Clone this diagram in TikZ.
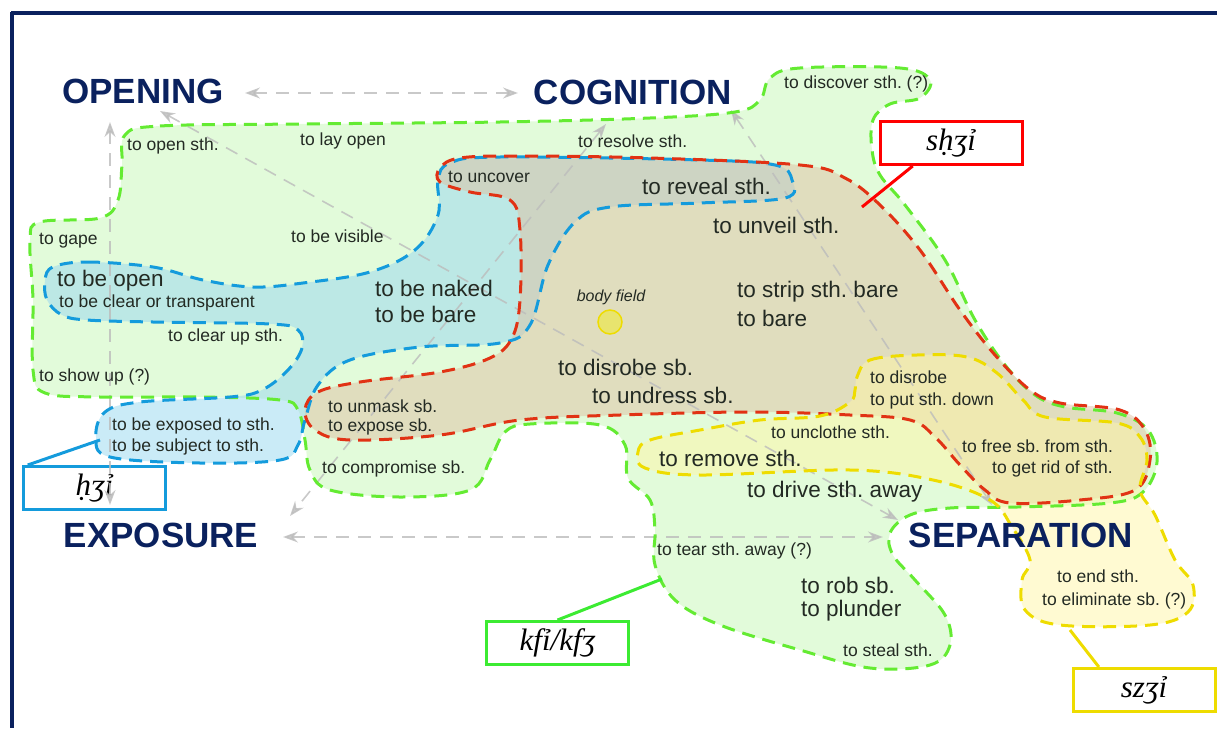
\documentclass[tikz,border=0pt]{standalone}
\usepackage{fontspec}
\setmainfont{Liberation Sans}
\newfontfamily\translit{Liberation Serif}
\usetikzlibrary{arrows.meta}
\frenchspacing

\definecolor{navy}{RGB}{10,33,94}
\definecolor{txt}{RGB}{35,42,35}
\definecolor{gedge}{RGB}{100,235,50}
\definecolor{gfill}{RGB}{216,250,206}
\definecolor{bedge}{RGB}{20,155,220}
\definecolor{bfill}{RGB}{150,215,240}
\definecolor{redge}{RGB}{225,50,20}
\definecolor{rfill}{RGB}{224,192,163}
\definecolor{yedge}{RGB}{238,220,0}
\definecolor{yfill}{RGB}{255,245,165}
\definecolor{kedge}{RGB}{60,235,50}
\definecolor{arrgray}{RGB}{188,188,188}

% outlines of the four word fields
\def\kfzone{plot[smooth cycle, tension=0.6] coordinates {
    (125,135) (160,126) (300,124) (500,122) (650,118) (735,112) (760,100)
    (770,78) (800,68) (900,68) (930,80) (920,98) (890,104) (873,120)
    (872,150) (880,175) (905,205) (945,260) (975,320) (1005,365) (1035,395)
    (1065,407) (1117,413) (1148,430) (1157,462) (1143,492) (1110,503)
    (1017,507) (950,508) (910,515) (890,533) (893,555) (915,580) (945,615)
    (950,645) (930,665) (870,668) (800,650) (720,625) (675,600) (655,565)
    (655,530) (650,500) (628,478) (625,445) (600,425) (530,424) (505,432)
    (490,460) (470,490) (400,497) (330,490) (310,470) (305,440) (298,410)
    (280,400) (200,397) (100,397) (45,393) (33,370) (33,300) (30,240)
    (40,222) (100,218) (118,200) (122,165)}}
\def\hzone{plot[smooth cycle, tension=0.6] coordinates {
    (53,267) (87,262) (153,267) (203,280) (253,287) (303,283) (370,272)
    (415,250) (438,215) (438,180) (450,163) (500,157) (700,160) (775,165)
    (792,180) (785,198) (700,203) (610,207) (575,222) (548,265) (530,325)
    (500,343) (420,347) (350,360) (318,385) (305,420) (298,445) (280,460)
    (200,463) (110,457) (96,437) (105,412) (140,402) (230,397) (262,390)
    (288,370) (302,348) (298,330) (270,324) (153,322) (87,320) (62,315)
    (47,300) (45,280)}}
\def\shzone{plot[smooth cycle, tension=0.6] coordinates {
    (650,158) (800,165) (845,178) (880,205) (920,250) (960,310) (995,355)
    (1030,390) (1060,403) (1120,410) (1145,430) (1150,460) (1135,490)
    (1080,500) (1010,503) (985,490) (960,465) (935,437) (910,420) (850,415)
    (750,412) (620,415) (520,420) (440,435) (350,440) (315,430) (305,410)
    (318,392) (360,382) (440,372) (490,358) (512,338) (520,300) (520,230)
    (510,200) (470,192) (440,182) (440,168) (460,158) (520,156)}}
\def\szzone{plot[smooth cycle, tension=0.6] coordinates {
    (857,377) (870,360) (917,355) (967,357) (997,373) (1023,400) (1045,417)
    (1117,423) (1140,437) (1147,460) (1140,490) (1155,515) (1175,560)
    (1193,585) (1188,612) (1150,625) (1060,625) (1025,610) (1022,580)
    (1030,560) (1012,527) (990,500) (933,480) (850,470) (700,475) (645,468)
    (638,452) (650,440) (700,430) (760,420) (820,416) (850,402) (855,390)}}

\begin{document}
\begin{tikzpicture}[
    x=1pt, y=-1pt,
    concept/.style = {font=\fontsize{35}{40}\selectfont\bfseries, text=navy, inner sep=0},
    lbl/.style     = {anchor=west, inner sep=0, text=txt,
                      font=\fontsize{17.5}{21}\selectfont},
    mlbl/.style    = {anchor=west, inner sep=0, text=txt,
                      font=\fontsize{22.5}{26}\selectfont},
    rim/.style     = {line width=3, dash pattern=on 13 off 8},
    tbox/.style    = {rectangle, fill=white, line width=3, minimum width=142,
                      minimum height=43, inner sep=0,
                      font=\fontsize{31}{34}\selectfont\translit\itshape},
    garr/.style    = {{Stealth[length=15,width=11]}-{Stealth[length=15,width=11]},
                      draw=arrgray, line width=1.6, dash pattern=on 13 off 9},
    ptr/.style     = {line width=3}
  ]
  \useasboundingbox (0,0) rectangle (1217,728);

  % frame
  \draw[navy, line width=3.5] (11,13) -- (1217,13);
  \draw[navy, line width=3.5] (12,11.5) -- (12,728);

  % concepts
  \node[concept] (open) at (143,91)  {OPENING};
  \node[concept] (cog)  at (633,92)  {COGNITION};
  \node[concept] (expo) at (161,535) {EXPOSURE};

  % arrow ends
  \coordinate (oc1) at (245,93);  \coordinate (oc2) at (518,93);
  \coordinate (oe1) at (110,122); \coordinate (oe2) at (110,505);
  \coordinate (es1) at (283,537); \coordinate (es2) at (883,537);
  \coordinate (ce1) at (606,124); \coordinate (ce2) at (290,516);
  \coordinate (os1) at (160,111); \coordinate (os2) at (898,520);
  \coordinate (cs1) at (731,110); \coordinate (cs2) at (992,505);

  % fields
  \fill[gfill, opacity=0.75] \kfzone;
  \fill[bfill, opacity=0.5]  \hzone;
  \fill[rfill, opacity=0.5]  \shzone;
  \fill[yfill, opacity=0.5]  \szzone;

  % word labels
  \node[tbox, draw=red]   (shbox) at (951,143)  {sḥʒỉ};
  \node[tbox, draw=bedge, fill=none] (hbox)  at (94.5,488) {ḥʒỉ};
  \node[tbox, draw=kedge] (kfbox) at (557.5,643) {kfỉ/kfʒ};
  \node[tbox, draw=yedge] (szbox) at (1144,690) {szʒỉ};

  \draw[garr, opacity=0.8] (oc1) -- (oc2);
  \draw[garr, opacity=0.8] (oe1) -- (oe2);
  \draw[garr, opacity=0.8] (es1) -- (es2);
  \draw[garr, opacity=0.8] (ce1) -- (ce2);
  \draw[garr, opacity=0.8] (os1) -- (os2);
  \draw[garr, opacity=0.8] (cs1) -- (cs2);

  \draw[rim, gedge] \kfzone;
  \draw[rim, bedge] \hzone;
  \draw[rim, redge] \shzone;
  \draw[rim, yedge] \szzone;

  % body field
  \node[draw=yedge, line width=1.5, fill={rgb,255:red,232;green,228;blue,110},
        circle, minimum size=24, inner sep=0] (body) at (610,322) {};
  \node[lbl, anchor=center, font=\fontsize{16}{19}\selectfont\itshape] (bodyl) at (611,297) {body field};

  % meanings
  \node[lbl]  (m1)  at (127,146) {to open sth.};
  \node[lbl]  (m2)  at (300,141) {to lay open};
  \node[lbl]  (m3)  at (578,141) {to resolve sth.};
  \node[lbl]  (m4)  at (784,84)  {to discover sth. (?)};
  \node[lbl]  (m5)  at (448,177) {to uncover};
  \node[mlbl] (m6)  at (642,186) {to reveal sth.};
  \node[mlbl] (m7)  at (713,225) {to unveil sth.};
  \node[lbl]  (m8)  at (39,241)  {to gape};
  \node[lbl]  (m9)  at (291,236) {to be visible};
  \node[mlbl] (m10) at (57,281)  {to be open};
  \node[lbl]  (m11) at (59,303)  {to be clear or transparent};
  \node[mlbl] (m12) at (375,288) {to be naked};
  \node[mlbl] (m13) at (375,314) {to be bare};
  \node[mlbl] (m14) at (737,292) {to strip sth. bare};
  \node[mlbl] (m15) at (737,318) {to bare};
  \node[lbl]  (m16) at (168,337) {to clear up sth.};
  \node[lbl]  (m17) at (39,377)  {to show up (?)};
  \node[mlbl] (m18) at (558,367) {to disrobe sb.};
  \node[mlbl] (m19) at (592,395) {to undress sb.};
  \node[lbl]  (m20) at (870,377) {to disrobe};
  \node[lbl]  (m21) at (870,401) {to put sth. down};
  \node[lbl]  (m22) at (328,406) {to unmask sb.};
  \node[lbl]  (m23) at (328,427) {to expose sb.};
  \node[lbl]  (m24) at (112,426) {to be exposed to sth.};
  \node[lbl]  (m25) at (112,447) {to be subject to sth.};
  \node[lbl]  (m26) at (771,432) {to unclothe sth.};
  \node[lbl]  (m27) at (962,446) {to free sb. from sth.};
  \node[lbl]  (m28) at (992,469) {to get rid of sth.};
  \node[mlbl] (m29) at (659,458) {to remove sth.};
  \node[lbl]  (m30) at (322,469) {to compromise sb.};
  \node[mlbl] (m31) at (747,492) {to drive sth. away};
  \node[lbl]  (m32) at (657,551) {to tear sth. away (?)};
  \node[mlbl] (m33) at (801,585) {to rob sb.};
  \node[mlbl] (m34) at (801,611) {to plunder};
  \node[lbl]  (m35) at (843,650) {to steal sth.};
  \node[lbl]  (m36) at (1057,576) {to end sth.};
  \node[lbl]  (m37) at (1042,601) {to eliminate sb. (?)};

  \node[concept] (sep) at (1021,535) {SEPARATION};

  \coordinate (shpt) at (862,207);
  \coordinate (hpt)  at (100,440);
  \coordinate (kfpt) at (662,579);
  \coordinate (szpt) at (1070,630);

  \draw[ptr, red]   (shbox.211) -- (shpt);
  \draw[ptr, bedge] (hbox.161)  -- (hpt);
  \draw[ptr, kedge] (kfbox.north) -- (kfpt);
  \draw[ptr, yedge] (szbox.153) -- (szpt);
\end{tikzpicture}
\end{document}
